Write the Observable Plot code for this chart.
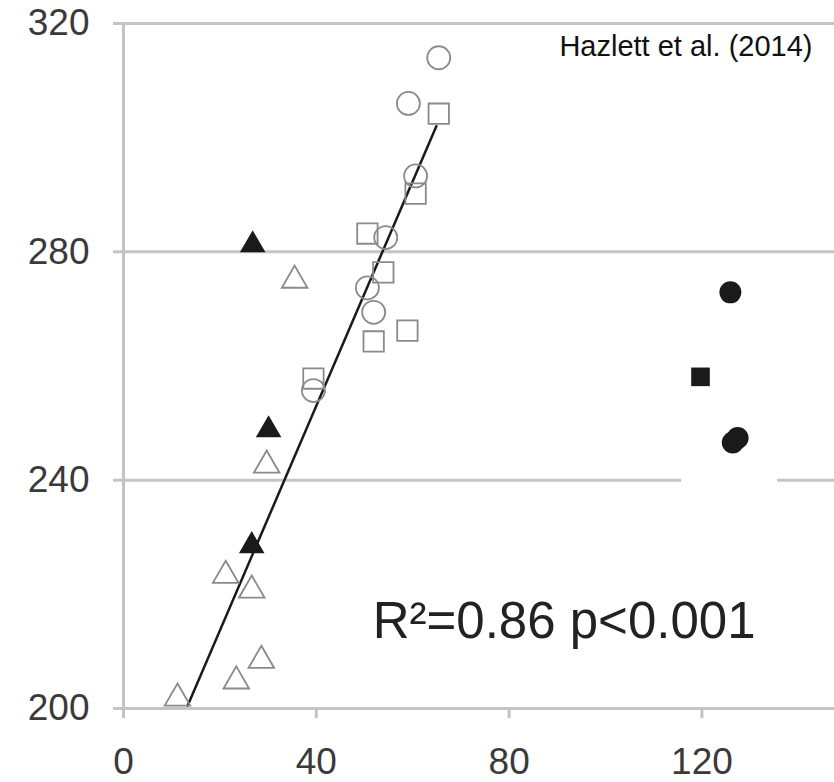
<!DOCTYPE html>
<html>
<head>
<meta charset="utf-8">
<script src="https://cdn.jsdelivr.net/npm/d3@7"></script>
<script src="https://cdn.jsdelivr.net/npm/@observablehq/plot@0.6"></script>
<style>
  html, body { margin: 0; padding: 0; background: #fff; }
  #chart { width: 834px; height: 782px; }
</style>
</head>
<body>
<div id="chart"></div>
<script>
// ---- data ----
const xTicks = [0, 40, 80, 120];
const yTicks = [200, 240, 280, 320];

const openCircleX = [65.4, 59.1, 60.6, 54.4, 50.6, 51.9, 39.4];
const openCircleY = [314.0, 306.0, 293.3, 282.5, 273.7, 269.4, 255.7];

const openSquareX = [65.4, 60.6, 50.6, 53.9, 58.9, 51.9, 39.4];
const openSquareY = [304.2, 290.2, 283.2, 276.4, 266.2, 264.3, 257.8];

const openTriangleX = [35.5, 29.7, 21.2, 26.6, 28.6, 23.4, 11.2];
const openTriangleY = [275.0, 242.6, 223.3, 220.7, 208.4, 204.8, 201.8];

const filledTriangleX = [26.8, 30.1, 26.6];
const filledTriangleY = [281.2, 248.8, 228.5];

const filledCircleX = [125.9, 126.4, 127.4];
const filledCircleY = [272.9, 246.6, 247.4];

const filledSquareX = [119.7];
const filledSquareY = [258.1];

const fitX = [13.3, 64.9];
const fitY = [200.5, 302.0];

const gapX = [115.8, 135.7]; // white gap in the 240 gridline
const gapY = 240;

const statText = "R\u00B2=0.86 p<0.001";
const statX = 51.7;
const statY = 215.2;
const citation = "Hazlett et al. (2014)";

// ---- build tables ----
const pts = (xs, ys) => xs.map((x, i) => ({x, y: ys[i]}));
const openCircles = pts(openCircleX, openCircleY);
const openSquares = pts(openSquareX, openSquareY);
const openTriangles = pts(openTriangleX, openTriangleY);
const filledTriangles = pts(filledTriangleX, filledTriangleY);
const filledCircles = pts(filledCircleX, filledCircleY);
const filledSquares = pts(filledSquareX, filledSquareY);
const fit = pts(fitX, fitY);

const grid = "#c4c4c4";
const openStroke = "#8a8a8a";
const ink = "#1a1a1a";

const chart = Plot.plot({
  width: 834,
  height: 782,
  marginLeft: 123,
  marginRight: 0,
  marginTop: 23,
  marginBottom: 74,
  style: {fontFamily: "'Liberation Sans', Arial, sans-serif", color: "#333", background: "#fff"},
  x: {domain: [0, 147.5], axis: null},
  y: {domain: [200, 320], axis: null},
  marks: [
    Plot.ruleY(yTicks, {stroke: grid, strokeWidth: 3}),
    Plot.ruleY([gapY], {x1: gapX[0], x2: gapX[1], stroke: "#fff", strokeWidth: 6}),
    Plot.ruleX([0], {stroke: grid, strokeWidth: 3}),
    Plot.axisY({ticks: yTicks, tickSize: 10, tickPadding: 24, stroke: grid, strokeWidth: 3,
                fontSize: 37, fill: "#3a3a3a", label: null, tickFormat: d => String(d)}),
    Plot.axisX({ticks: xTicks, tickSize: 10, tickPadding: 29, stroke: grid, strokeWidth: 3,
                fontSize: 37, fill: "#3a3a3a", label: null, tickFormat: d => String(d)}),
    Plot.line(fit, {x: "x", y: "y", stroke: ink, strokeWidth: 2.5}),
    Plot.dot(openTriangles, {x: "x", y: "y", symbol: "triangle", r: 9.5, stroke: openStroke, strokeWidth: 1.8, fill: "none"}),
    Plot.dot(openSquares, {x: "x", y: "y", symbol: "square", r: 11.5, stroke: openStroke, strokeWidth: 1.8, fill: "none"}),
    Plot.dot(openCircles, {x: "x", y: "y", symbol: "circle", r: 11.5, stroke: openStroke, strokeWidth: 1.8, fill: "none"}),
    Plot.dot(filledTriangles, {x: "x", y: "y", symbol: "triangle", r: 9.5, fill: ink, stroke: "none"}),
    Plot.dot(filledCircles, {x: "x", y: "y", symbol: "circle", r: 11, fill: ink, stroke: "none"}),
    Plot.dot(filledSquares, {x: "x", y: "y", symbol: "square", r: 10.5, fill: ink, stroke: "none"}),
    Plot.text([statText], {x: statX, y: statY, text: d => d, textAnchor: "start", fontSize: 51, fill: "#222"}),
    Plot.text([citation], {frameAnchor: "top-right", text: d => d, dx: -22, dy: 12, lineAnchor: "top", fontSize: 29, fill: "#111"})
  ]
});
document.getElementById("chart").appendChild(chart);
</script>
</body>
</html>
